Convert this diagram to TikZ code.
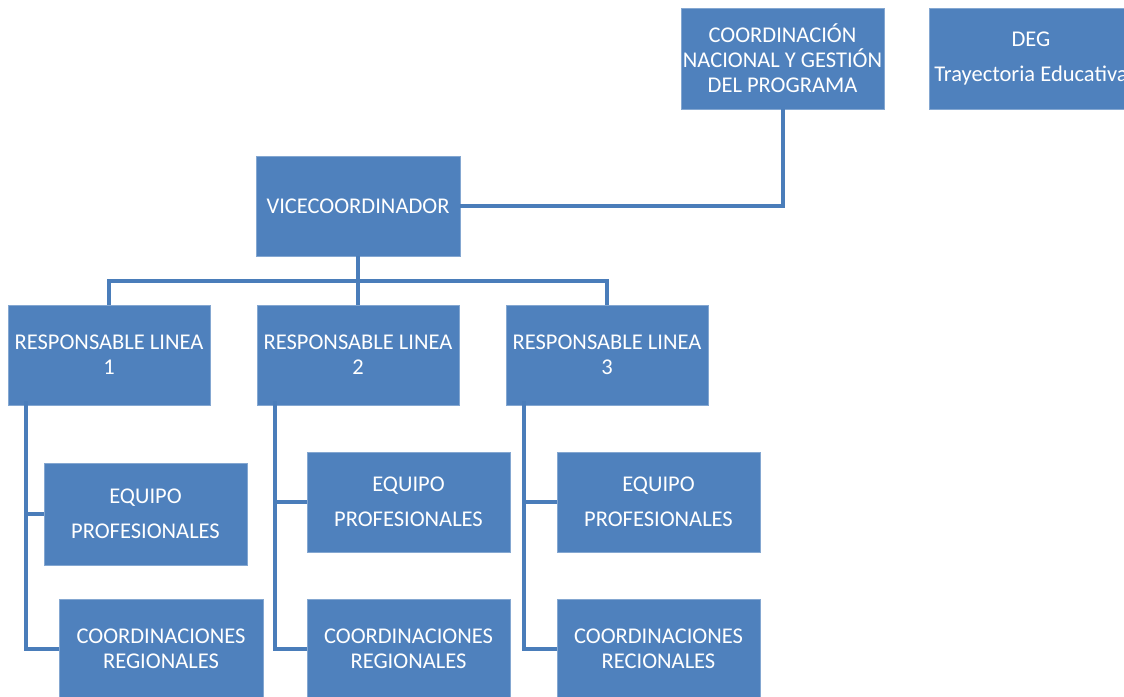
\documentclass[tikz,border=0pt]{standalone}
\usepackage{fontspec}
\setmainfont{Carlito}
\usetikzlibrary{calc}
\definecolor{boxblue}{HTML}{4F81BD}
\definecolor{linkblue}{HTML}{4A7DBA}
\begin{document}
\begin{tikzpicture}[x=1pt,y=-1pt,
  orgbox/.style={rectangle, fill=boxblue, draw=boxblue!70!white, line width=0.8pt,
    minimum width=203pt, minimum height=101pt, inner sep=0pt, align=center,
    text=white, font=\fontsize{22.5}{25}\selectfont},
  link/.style={draw=linkblue, line width=4pt}]
\clip (0,0) rectangle (1124,696);
\fill[white] (0,0) rectangle (1124,696);
% top
\node[orgbox] (coord) at (782.5,58.5) {COORDINACIÓN\\NACIONAL Y GESTIÓN\\DEL PROGRAMA};
\node[orgbox] (deg) at (1031,58.5) {DEG\\[10pt]Trayectoria Educativa};
\node[orgbox, minimum width=204pt, minimum height=100pt] (vice) at (358,206) {VICECOORDINADOR};
% responsables
\node[orgbox, minimum width=202pt, minimum height=100pt] (r1) at (109,355) {RESPONSABLE LINEA\\1};
\node[orgbox, minimum width=202pt, minimum height=100pt] (r2) at (358,355) {RESPONSABLE LINEA\\2};
\node[orgbox, minimum width=202pt, minimum height=100pt] (r3) at (607,355) {RESPONSABLE LINEA\\3};
% equipos
\node[orgbox, minimum height=102pt] (e1) at (145.5,514) {EQUIPO\\[10pt]PROFESIONALES};
\node[orgbox, minimum height=100pt] (e2) at (408.5,502) {EQUIPO\\[10pt]PROFESIONALES};
\node[orgbox, minimum height=100pt] (e3) at (658.5,502) {EQUIPO\\[10pt]PROFESIONALES};
% coordinaciones
\node[orgbox, minimum width=204pt, minimum height=100pt] (c1) at (161,649) {COORDINACIONES\\REGIONALES};
\node[orgbox, minimum height=100pt] (c2) at (408.5,649) {COORDINACIONES\\REGIONALES};
\node[orgbox, minimum height=100pt] (c3) at (658.5,649) {COORDINACIONES\\RECIONALES};
% connectors
\draw[link] (coord.south) |- (vice.east);
\coordinate (bus) at ($(vice.south)+(0,25)$);
\draw[link] (vice.south) -- (bus);
\draw[link] (bus) -| (r1.north);
\draw[link] (bus) -| (r3.north);
\draw[link] (bus) -- (r2.north);
\draw[link] ([xshift=18pt,yshift=4pt]r1.south west) |- (e1.west);
\draw[link] ([xshift=18pt,yshift=4pt]r1.south west) |- (c1.west);
\draw[link] ([xshift=18pt,yshift=4pt]r2.south west) |- (e2.west);
\draw[link] ([xshift=18pt,yshift=4pt]r2.south west) |- (c2.west);
\draw[link] ([xshift=18pt,yshift=4pt]r3.south west) |- (e3.west);
\draw[link] ([xshift=18pt,yshift=4pt]r3.south west) |- (c3.west);
\end{tikzpicture}
\end{document}
